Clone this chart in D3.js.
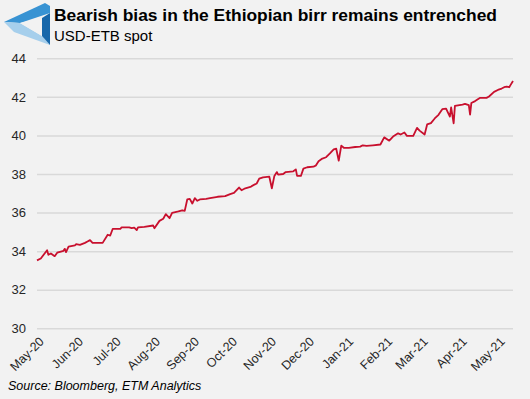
<!DOCTYPE html>
<html lang="en">
<head>
<meta charset="utf-8">
<title>USD-ETB spot</title>
<script src="https://cdn.jsdelivr.net/npm/d3@7"></script>
<style>
  html, body { margin: 0; padding: 0; background: #f2f2f2; }
  svg { display: block; font-family: "Liberation Sans", Arial, sans-serif; }
  .grid line { stroke: #d9d9d9; stroke-width: 1.5; }
  .tick text { fill: #262626; }
</style>
</head>
<body>
<script>
// chart texts
var title = "Bearish bias in the Ethiopian birr remains entrenched";
var subtitle = "USD-ETB spot";
var source = "Source: Bloomberg, ETM Analytics";

// x axis: month ticks
var monthTicks = ["2020-05-01","2020-06-01","2020-07-01","2020-08-01","2020-09-01","2020-10-01",
  "2020-11-01","2020-12-01","2021-01-01","2021-02-01","2021-03-01","2021-04-01","2021-05-01"];
// y axis ticks
var yTicks = [30, 32, 34, 36, 38, 40, 42, 44];

// USD-ETB spot
var dates = ["2020-05-01","2020-05-04","2020-05-09","2020-05-10","2020-05-12","2020-05-15","2020-05-17",
  "2020-05-22","2020-05-23","2020-05-24","2020-05-26","2020-05-31","2020-06-01","2020-06-04","2020-06-08",
  "2020-06-10","2020-06-12","2020-06-14","2020-06-22","2020-06-26","2020-06-28","2020-06-30","2020-07-06",
  "2020-07-07","2020-07-13","2020-07-15","2020-07-17","2020-07-19","2020-07-20","2020-07-25","2020-08-01",
  "2020-08-02","2020-08-06","2020-08-09","2020-08-11","2020-08-14","2020-08-16","2020-08-21","2020-08-24",
  "2020-08-26","2020-08-28","2020-08-30","2020-09-01","2020-09-03","2020-09-05","2020-09-07","2020-09-12",
  "2020-09-15","2020-09-21","2020-09-27","2020-10-01","2020-10-04","2020-10-08","2020-10-10","2020-10-13",
  "2020-10-17","2020-10-18","2020-10-22","2020-10-24","2020-10-27","2020-11-01","2020-11-03","2020-11-05",
  "2020-11-07","2020-11-08","2020-11-12","2020-11-14","2020-11-20","2020-11-22","2020-11-23","2020-11-26",
  "2020-11-28","2020-12-01","2020-12-06","2020-12-08","2020-12-10","2020-12-13","2020-12-16","2020-12-19",
  "2020-12-22","2020-12-24","2020-12-26","2020-12-28","2020-12-30","2021-01-03","2021-01-08","2021-01-12",
  "2021-01-14","2021-01-17","2021-01-22","2021-01-28","2021-01-31","2021-02-04","2021-02-07","2021-02-11",
  "2021-02-13","2021-02-16","2021-02-18","2021-02-23","2021-02-26","2021-02-28","2021-03-04","2021-03-06",
  "2021-03-09","2021-03-12","2021-03-15","2021-03-18","2021-03-21","2021-03-24","2021-03-25","2021-03-27",
  "2021-03-28","2021-04-03","2021-04-05","2021-04-08","2021-04-09","2021-04-10","2021-04-13","2021-04-17",
  "2021-04-22","2021-04-24","2021-04-28","2021-05-01","2021-05-04","2021-05-06","2021-05-08","2021-05-10",
  "2021-05-11","2021-05-13"];
var spot = [33.52,33.62,34.05,33.81,33.88,33.74,33.92,
  34.02,34.12,33.95,34.23,34.30,34.36,34.33,34.43,
  34.50,34.57,34.43,34.43,34.85,34.81,35.16,35.16,
  35.23,35.23,35.19,35.22,35.09,35.23,35.26,35.33,
  35.19,35.57,35.68,35.92,35.71,35.99,36.06,36.12,
  36.09,36.68,36.71,36.47,36.75,36.61,36.68,36.71,
  36.75,36.82,36.85,36.96,37.02,37.30,37.16,37.26,
  37.33,37.37,37.51,37.76,37.83,37.86,37.26,37.90,
  38.10,37.97,38.00,38.10,38.14,38.24,37.90,37.90,
  38.28,38.35,38.38,38.45,38.66,38.80,38.87,39.07,
  39.28,39.31,38.69,39.47,39.36,39.36,39.40,39.42,
  39.49,39.46,39.49,39.53,39.90,39.73,39.94,40.11,
  40.05,40.15,39.98,39.98,40.39,40.25,40.05,40.57,
  40.64,40.88,41.07,41.36,41.39,40.98,41.46,40.63,
  41.53,41.60,41.64,41.57,41.08,41.68,41.78,41.95,
  41.95,42.02,42.26,42.36,42.43,42.50,42.53,42.50,
  42.61,42.82];

var w = 530, h = 399;
var parse = d3.timeParse("%Y-%m-%d");
var fmt = d3.timeFormat("%b-%y");

var data = dates.map(function(d, i) { return { date: parse(d), value: spot[i] }; });

var x = d3.scaleTime()
  .domain([parse("2020-05-01"), parse("2021-05-13")])
  .range([37, 513]);
var y = d3.scaleLinear().domain([30, 44]).range([328.3, 58.3]);

var svg = d3.select("body").append("svg")
  .attr("width", w)
  .attr("height", h);

svg.append("rect").attr("width", w).attr("height", h).attr("fill", "#f2f2f2");

// logo (impossible triangle)
var logo = svg.append("g").attr("transform", "translate(2,2)");
logo.append("path").attr("d", "M2,20 L43,1 L48,4 L48,11 L18,21 Z").attr("fill", "#3893d3");
logo.append("path").attr("d", "M2,20 L18,21 L40,34 L48,43 L12,30 Z").attr("fill", "#a6cfec");
logo.append("path").attr("d", "M48,11 L48,43 L40,34 L40,16 Z").attr("fill", "#1767aa");
logo.append("path").attr("d", "M18,21 L40,16 L40,34 Z").attr("fill", "#f2f2f2");

svg.append("text")
  .attr("x", 54).attr("y", 21)
  .attr("font-size", 16.5).attr("font-weight", "bold")
  .attr("fill", "#000")
  .attr("textLength", 443)
  .attr("lengthAdjust", "spacingAndGlyphs")
  .text(title);

svg.append("text")
  .attr("x", 54).attr("y", 41)
  .attr("font-size", 15)
  .attr("fill", "#000")
  .text(subtitle);

// gridlines + y labels
var yAxis = svg.append("g")
  .attr("class", "grid")
  .attr("transform", "translate(37,0)")
  .call(d3.axisLeft(y).tickValues(yTicks).tickSize(-476).tickPadding(11).tickFormat(d3.format("d")));
yAxis.select(".domain").remove();
yAxis.selectAll("text").attr("font-size", 13).attr("font-family", "Liberation Sans, Arial, sans-serif");

// x axis labels
var xAxis = svg.append("g")
  .attr("transform", "translate(0,333)")
  .call(d3.axisBottom(x).tickValues(monthTicks.map(parse)).tickSize(0).tickFormat(fmt));
xAxis.select(".domain").remove();
xAxis.selectAll("text")
  .attr("font-size", 12.5)
  .attr("font-family", "Liberation Sans, Arial, sans-serif")
  .attr("text-anchor", "end")
  .attr("dy", "0.35em")
  .attr("transform", "translate(2,4) rotate(-45)");

// the line
var line = d3.line()
  .x(function(d) { return x(d.date); })
  .y(function(d) { return y(d.value); });

svg.append("path")
  .datum(data)
  .attr("fill", "none")
  .attr("stroke", "#c8102e")
  .attr("stroke-width", 1.8)
  .attr("stroke-linejoin", "round")
  .attr("d", line);

svg.append("text")
  .attr("x", 8).attr("y", 390)
  .attr("font-size", 12.5).attr("font-style", "italic")
  .attr("fill", "#000")
  .text(source);
</script>
</body>
</html>
